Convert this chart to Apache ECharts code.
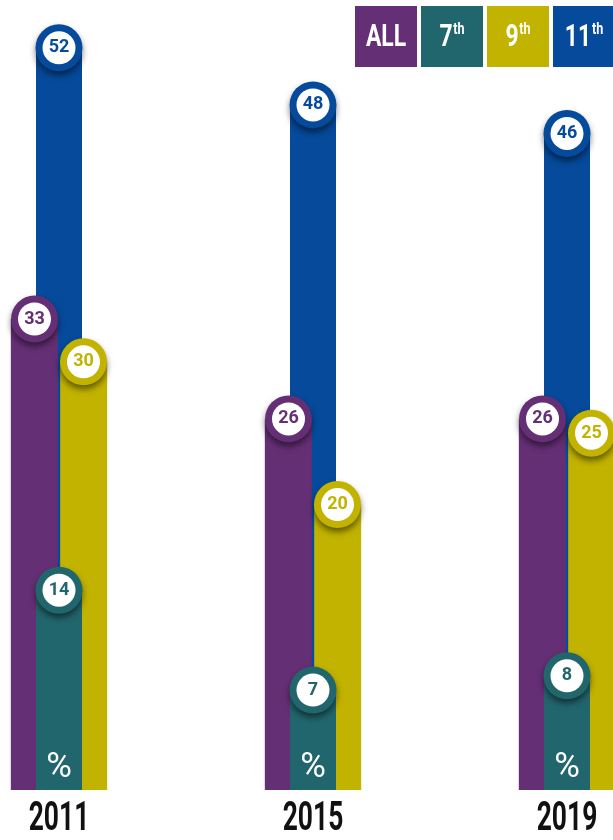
<!DOCTYPE html>
<html>
<head>
<meta charset="utf-8">
<script src="https://cdn.jsdelivr.net/npm/echarts@6/dist/echarts.min.js"></script>
<style>
  html, body { margin: 0; padding: 0; background: #ffffff; }
  #chart { width: 613px; height: 840px; }
</style>
</head>
<body>
<div id="chart"></div>
<script>
// Survey years and share (%) for each grade group
const years = ['2011', '2015', '2019'];
const allGrades = [33, 26, 26];
const grade7 = [14, 7, 8];
const grade9 = [30, 20, 25];
const grade11 = [52, 48, 46];

const legendNames = ['ALL', '7', '9', '11'];
const legendSup = ['', 'th', 'th', 'th'];

const COLORS = {
  all: '#652F75',
  g7: '#22666D',
  g9: '#C2B300',
  g11: '#054A9B'
};
const FONT = "Roboto, 'Noto Sans', sans-serif";

const chart = echarts.init(document.getElementById('chart'), null, { renderer: 'canvas' });

// Round value badge sitting on top of a bar: a coloured disc with a shadow,
// and a white disc carrying the number.
function badge(name, data, color, xAxisIndex, offsetX, z) {
  return [
    {
      name: name + '-ring',
      type: 'scatter',
      xAxisIndex: xAxisIndex,
      data: data,
      symbol: 'circle',
      symbolSize: 47,
      symbolOffset: [offsetX, 0],
      z: z,
      silent: true,
      itemStyle: {
        color: color,
        opacity: 1,
        shadowColor: 'rgba(0,0,0,0.5)',
        shadowBlur: 6,
        shadowOffsetY: 4
      }
    },
    {
      name: name + '-value',
      type: 'scatter',
      xAxisIndex: xAxisIndex,
      data: data,
      symbol: 'circle',
      symbolSize: 33,
      symbolOffset: [offsetX, 0],
      z: z + 1,
      silent: true,
      itemStyle: { color: '#ffffff', opacity: 1 },
      label: {
        show: true,
        position: 'inside',
        formatter: '{c}',
        color: color,
        fontFamily: FONT,
        fontWeight: 'bold',
        fontSize: 18
      }
    }
  ];
}

// Legend boxes in the top right corner
const legendGraphics = [];
const legendColors = [COLORS.all, COLORS.g7, COLORS.g9, COLORS.g11];
legendNames.forEach(function (n, i) {
  const x = 355 + i * 66;
  legendGraphics.push({
    type: 'rect',
    shape: { x: x, y: 6, width: 62, height: 61 },
    style: { fill: legendColors[i] },
    z: 10
  });
  legendGraphics.push({
    type: 'text',
    x: x + 31,
    y: 38,
    scaleX: 0.74,
    z: 11,
    style: {
      text: legendSup[i] ? '{m|' + n + '}{s|' + legendSup[i] + '}' : '{m|' + n + '}',
      align: 'center',
      verticalAlign: 'middle',
      rich: {
        m: { fontFamily: FONT, fontWeight: 'bold', fontSize: 31, fill: '#ffffff', lineHeight: 34 },
        s: { fontFamily: FONT, fontWeight: 'bold', fontSize: 17, fill: '#ffffff', verticalAlign: 'top', lineHeight: 34, padding: [0, 0, 14, 1] }
      }
    }
  });
});

const option = {
  animation: false,
  backgroundColor: '#ffffff',
  grid: { left: -68, width: 762, top: 5, bottom: 50, outerBoundsMode: 'none', containLabel: false },
  xAxis: [
    {
      type: 'category',
      data: years,
      axisLine: { show: false },
      axisTick: { show: false },
      axisLabel: { show: false }
    },
    {
      type: 'category',
      data: years,
      show: false
    }
  ],
  yAxis: {
    type: 'value',
    min: 0,
    max: 55,
    show: false,
    splitLine: { show: false }
  },
  series: [
    {
      name: '11th',
      type: 'bar',
      xAxisIndex: 1,
      data: grade11,
      barWidth: 46,
      barGap: '-100%',
      z: 1,
      itemStyle: { color: COLORS.g11 }
    },
    {
      name: '7th',
      type: 'bar',
      xAxisIndex: 1,
      data: grade7,
      barWidth: 46,
      z: 4,
      itemStyle: { color: COLORS.g7 },
      label: {
        show: true,
        position: 'insideBottom',
        distance: 4,
        formatter: '%',
        color: '#ffffff',
        fontFamily: FONT,
        fontSize: 35
      }
    },
    {
      name: 'ALL',
      type: 'bar',
      xAxisIndex: 0,
      data: allGrades,
      barWidth: 47,
      barGap: '5%',
      z: 2,
      itemStyle: { color: COLORS.all }
    },
    {
      name: '9th',
      type: 'bar',
      xAxisIndex: 0,
      data: grade9,
      barWidth: 47,
      barGap: '5%',
      z: 3,
      itemStyle: { color: COLORS.g9 }
    }
  ]
    .concat(badge('11th', grade11, COLORS.g11, 1, 0, 5))
    .concat(badge('ALL', allGrades, COLORS.all, 0, -24.5, 7))
    .concat(badge('9th', grade9, COLORS.g9, 0, 24.5, 9))
    .concat(badge('7th', grade7, COLORS.g7, 1, 0, 11)),
  graphic: legendGraphics
};

chart.setOption(option);

// Year captions under each group, placed from the category axis, set in a condensed cut
const yearGraphics = years.map(function (y) {
  const px = chart.convertToPixel({ xAxisIndex: 0, yAxisIndex: 0 }, [y, 0]);
  return {
    type: 'text',
    x: px[0],
    y: px[1] + 30,
    scaleX: 0.66,
    z: 11,
    style: {
      text: y,
      align: 'center',
      verticalAlign: 'middle',
      fontFamily: FONT,
      fontWeight: 'bold',
      fontSize: 40,
      fill: '#111111'
    }
  };
});
chart.setOption({ graphic: legendGraphics.concat(yearGraphics) });
</script>
</body>
</html>
